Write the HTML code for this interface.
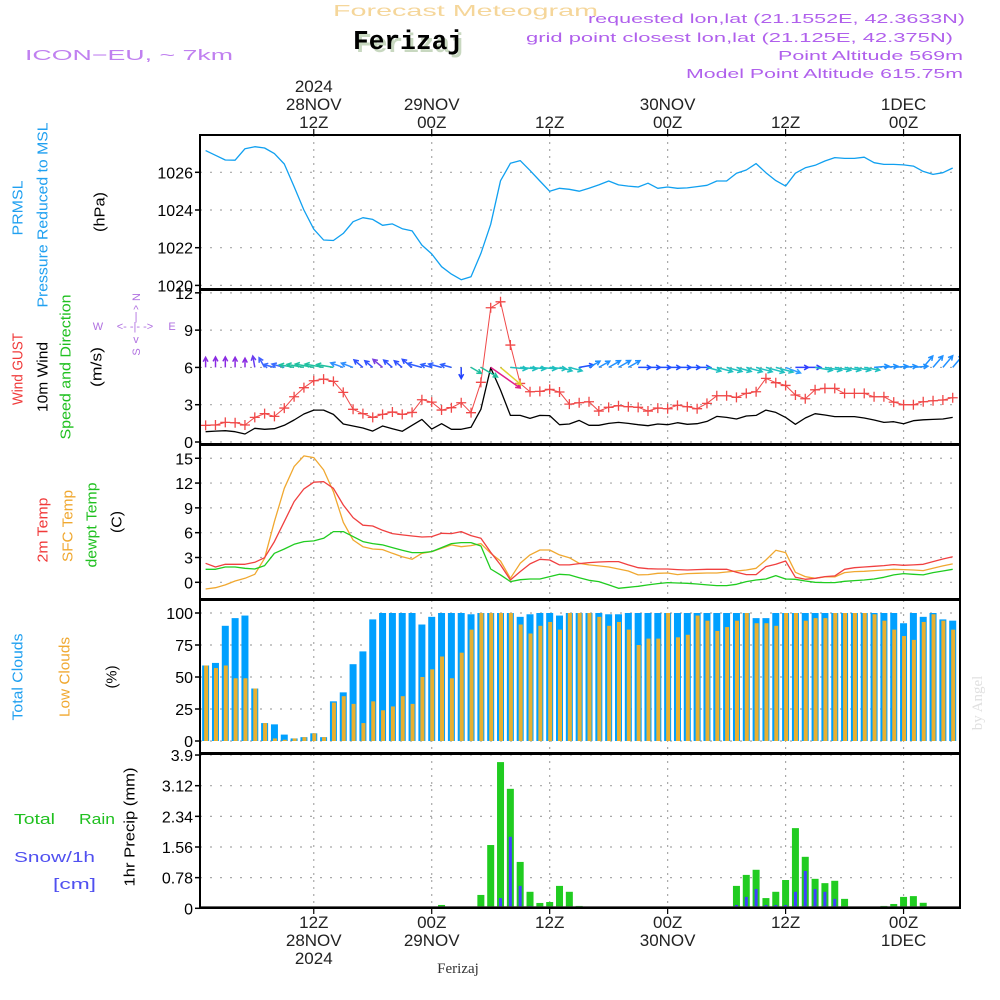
<!DOCTYPE html>
<html><head><meta charset="utf-8"><title>Forecast Meteogram Ferizaj</title>
<style>
html,body{margin:0;padding:0;background:#fff;}
svg{display:block;font-family:"Liberation Sans",sans-serif;}
</style></head>
<body>
<svg id="chart" width="1000" height="1000" viewBox="0 0 1000 1000" xmlns="http://www.w3.org/2000/svg">
<defs>
<clipPath id="clipP"><rect x="200" y="135" width="760" height="154"/></clipPath>
<clipPath id="clipW"><rect x="200" y="290" width="760" height="154"/></clipPath>
<clipPath id="clipT"><rect x="200" y="445" width="760" height="154"/></clipPath>
<clipPath id="clipC"><rect x="200" y="600" width="760" height="153"/></clipPath>
<clipPath id="clipR"><rect x="200" y="754" width="760" height="154"/></clipPath>
</defs>
<!-- header -->
<text x="333" y="16" font-size="16" fill="#f5d69a" textLength="265" lengthAdjust="spacingAndGlyphs">Forecast Meteogram</text>
<text x="356" y="52" font-family="Liberation Mono, monospace" font-weight="bold" font-size="27" fill="#c8d8c0" textLength="110" lengthAdjust="spacingAndGlyphs">Ferizaj</text>
<text x="353" y="49" font-family="Liberation Mono, monospace" font-weight="bold" font-size="27" fill="#000" textLength="110" lengthAdjust="spacingAndGlyphs">Ferizaj</text>
<text x="25" y="60" font-size="15" fill="#c080f0" textLength="208" lengthAdjust="spacingAndGlyphs">ICON−EU, ~ 7km</text>
<text x="965" y="23" font-size="13" fill="#b060ec" text-anchor="end" textLength="377" lengthAdjust="spacingAndGlyphs">requested lon,lat (21.1552E, 42.3633N)</text>
<text x="953" y="42" font-size="13" fill="#b060ec" text-anchor="end" textLength="427" lengthAdjust="spacingAndGlyphs">grid point closest lon,lat (21.125E, 42.375N)</text>
<text x="963" y="60" font-size="13" fill="#b060ec" text-anchor="end" textLength="185" lengthAdjust="spacingAndGlyphs">Point Altitude 569m</text>
<text x="963" y="78" font-size="13" fill="#b060ec" text-anchor="end" textLength="277" lengthAdjust="spacingAndGlyphs">Model Point Altitude 615.75m</text>
<text x="458" y="973" font-family="Liberation Serif, serif" font-size="15" fill="#333" text-anchor="middle">Ferizaj</text>
<text transform="translate(982,703) rotate(-90)" font-family="Liberation Serif, serif" font-size="15" fill="#e0e0e0" text-anchor="middle">by Angel</text>

<!-- left labels -->
<g font-size="15" dominant-baseline="central" text-anchor="middle">
<text transform="translate(18,208) rotate(-90)" fill="#20a0f0" textLength="55" lengthAdjust="spacingAndGlyphs">PRMSL</text>
<text transform="translate(43,215) rotate(-90)" fill="#20a0f0" textLength="185" lengthAdjust="spacingAndGlyphs">Pressure Reduced to MSL</text>
<text transform="translate(100,212) rotate(-90)" fill="#000" textLength="40" lengthAdjust="spacingAndGlyphs">(hPa)</text>
<text transform="translate(18,369) rotate(-90)" fill="#f03a3a" textLength="72" lengthAdjust="spacingAndGlyphs">Wind GUST</text>
<text transform="translate(43,377) rotate(-90)" fill="#000" textLength="70" lengthAdjust="spacingAndGlyphs">10m Wind</text>
<text transform="translate(66,367) rotate(-90)" fill="#20c020" textLength="145" lengthAdjust="spacingAndGlyphs">Speed and Direction</text>
<text transform="translate(97,367) rotate(-90)" fill="#000" textLength="40" lengthAdjust="spacingAndGlyphs">(m/s)</text>
<text transform="translate(43,530) rotate(-90)" fill="#f03a3a" textLength="65" lengthAdjust="spacingAndGlyphs">2m Temp</text>
<text transform="translate(68,526) rotate(-90)" fill="#f0a830" textLength="72" lengthAdjust="spacingAndGlyphs">SFC Temp</text>
<text transform="translate(92,525) rotate(-90)" fill="#20c020" textLength="85" lengthAdjust="spacingAndGlyphs">dewpt Temp</text>
<text transform="translate(117,522) rotate(-90)" fill="#000" textLength="22" lengthAdjust="spacingAndGlyphs">(C)</text>
<text transform="translate(18,677) rotate(-90)" fill="#20a0f0" textLength="87" lengthAdjust="spacingAndGlyphs">Total Clouds</text>
<text transform="translate(65,677) rotate(-90)" fill="#f0a830" textLength="80" lengthAdjust="spacingAndGlyphs">Low Clouds</text>
<text transform="translate(112,677) rotate(-90)" fill="#000" textLength="23" lengthAdjust="spacingAndGlyphs">(%)</text>
<text transform="translate(130,827) rotate(-90)" fill="#000" textLength="119" lengthAdjust="spacingAndGlyphs">1hr Precip (mm)</text>
</g>
<text x="14" y="824" font-size="15" fill="#20c020" textLength="41" lengthAdjust="spacingAndGlyphs">Total</text>
<text x="79" y="824" font-size="15" fill="#20c020" textLength="36" lengthAdjust="spacingAndGlyphs">Rain</text>
<text x="14" y="862" font-size="15" fill="#5050f0" textLength="81" lengthAdjust="spacingAndGlyphs">Snow/1h</text>
<text x="53" y="889" font-size="15" fill="#5050f0" textLength="43" lengthAdjust="spacingAndGlyphs">[cm]</text>
<!-- compass -->
<g fill="#b070e0" font-size="11" text-anchor="middle">
<text x="98" y="330">W</text><text x="172" y="330">E</text>
<text x="135" y="330">&lt;- -|- -&gt;</text>
<text x="136" y="301" transform="rotate(-90,136,297)">N</text>
<text x="136" y="313">^</text>
<text x="136" y="320">|</text>
<text x="136" y="343">v</text>
<text x="136" y="356" transform="rotate(-90,136,352)">S</text>
</g>
<g id="plots"></g>
</svg>
<script>
// ---- data ----
const hours=[1,2,3,4,5,6,7,8,9,10,11,12,13,14,15,16,17,18,19,20,21,22,23,24,25,26,27,28,29,30,31,32,33,34,35,36,37,38,39,40,41,42,43,44,45,46,47,48,49,50,51,52,53,54,55,56,57,58,59,60,61,62,63,64,65,66,67,68,69,70,71,72,73,74,75,76,77];
const barHours=[0,1,2,3,4,5,6,7,8,9,10,11,12,13,14,15,16,17,18,19,20,21,22,23,24,25,26,27,28,29,30,31,32,33,34,35,36,37,38,39,40,41,42,43,44,45,46,47,48,49,50,51,52,53,54,55,56,57,58,59,60,61,62,63,64,65,66,67,68,69,70,71,72,73,74,75,76,77];
const pressure=[1027.15,1026.90,1026.65,1026.64,1027.25,1027.36,1027.29,1026.99,1026.44,1025.24,1024.0,1022.98,1022.41,1022.38,1022.76,1023.38,1023.59,1023.5,1023.19,1023.26,1023.01,1022.89,1022.14,1021.67,1020.99,1020.60,1020.30,1020.46,1021.70,1023.24,1025.55,1026.48,1026.62,1026.1,1025.54,1024.99,1025.15,1025.1,1025.0,1025.15,1025.33,1025.54,1025.33,1025.27,1025.22,1025.42,1025.15,1025.22,1025.15,1025.17,1025.24,1025.31,1025.54,1025.54,1025.95,1026.12,1026.46,1025.98,1025.56,1025.27,1025.95,1026.24,1026.37,1026.6,1026.78,1026.74,1026.74,1026.8,1026.51,1026.42,1026.42,1026.39,1026.33,1026.05,1025.89,1025.98,1026.23];
const gust=[1.34,1.37,1.58,1.55,1.37,1.98,2.28,2.06,2.73,3.64,4.37,4.93,5.06,4.88,3.99,2.63,2.28,1.98,2.22,2.41,2.22,2.38,3.40,3.21,2.57,2.76,3.16,2.36,4.80,10.8,11.28,7.8,4.71,4.04,4.07,4.23,4.02,3.05,3.16,3.24,2.49,2.79,2.92,2.84,2.79,2.49,2.73,2.68,2.95,2.84,2.68,3.11,3.72,3.72,3.59,3.91,4.04,5.12,4.77,4.55,3.78,3.48,4.2,4.31,4.31,3.91,3.91,3.91,3.64,3.64,3.21,3.0,3.0,3.24,3.32,3.38,3.56];
const wind=[0.83,0.88,0.91,0.83,0.64,1.10,1.02,1.07,1.34,1.77,2.25,2.57,2.57,2.22,1.45,1.29,1.13,0.88,1.29,1.07,0.86,1.34,1.82,1.04,1.47,1.02,1.02,1.18,2.63,5.97,4.18,2.14,2.14,1.90,2.14,2.12,1.39,1.45,1.74,1.34,1.34,1.5,1.58,1.5,1.39,1.31,1.45,1.39,1.55,1.42,1.47,1.66,2.06,1.98,1.85,2.09,2.14,2.57,2.38,1.98,1.42,1.93,2.28,2.17,2.04,2.04,2.04,1.93,1.77,1.58,1.63,1.47,1.71,1.79,1.82,1.85,1.98];
// direction the arrow points (degrees, 0 = towards east, 90 = towards north)
const windDir=[90,90,90,90,90,100,120,165,165,170,170,170,170,170,160,160,140,140,140,140,140,140,165,165,165,165,270,-30,-30,-35,-40,-5,-5,-5,-5,-5,-15,-15,10,30,30,30,30,30,0,0,0,0,0,0,0,-15,-15,-15,-15,-15,-15,-15,-15,-20,0,0,-10,-10,-10,-10,-10,-10,5,5,5,5,5,50,50,50,50];
const windColor=["#8a2be2","#8a2be2","#8a2be2","#8a2be2","#8a2be2","#6a3df0","#4060ff","#3a6cff","#3a6cff","#20c0a0","#20c0a0","#20c0a0","#20c0a0","#20c0a0","#3090ff","#3090ff","#3050ff","#3050ff","#7a40e0","#3050ff","#3050ff","#3050ff","#3060ff","#3060ff","#3060ff","#3060ff","#2040ff","#20c0a0","#20c0a0","#e0208a","#e0d030","#20c0c0","#20c0c0","#20c0c0","#20c0c0","#20c0c0","#20c0c0","#20c0c0","#2050ff","#2090ff","#2090ff","#2090ff","#2090ff","#2090ff","#2050ff","#2050ff","#2050ff","#2050ff","#2050ff","#2050ff","#2050ff","#20c0c0","#20c0c0","#20c0c0","#20c0c0","#20c0c0","#20c0c0","#20c0c0","#20c0c0","#30a0ff","#3040ff","#3040ff","#20c0c0","#20c0c0","#20c0c0","#20c0c0","#20c0c0","#20c0c0","#2090ff","#2090ff","#2090ff","#2090ff","#2090ff","#2090ff","#2090ff","#2090ff","#2090ff"];
const temp2m=[2.30,1.85,2.18,2.18,2.18,2.42,2.98,4.92,7.34,9.76,11.29,12.1,12.18,11.37,9.35,7.82,6.9,6.81,6.29,5.89,5.73,5.6,5.48,5.52,5.93,5.89,6.13,5.65,5.32,3.63,2.1,0.28,1.29,2.22,2.78,2.7,2.1,2.1,2.26,2.38,2.46,2.5,2.5,2.1,1.77,1.65,1.61,1.61,1.53,1.49,1.53,1.57,1.57,1.57,1.21,0.93,0.93,1.9,2.18,2.58,0.6,0.36,0.48,0.69,0.77,1.57,1.77,1.85,1.94,2.02,2.14,2.06,2.1,2.18,2.5,2.82,3.1];
const tempSfc=[-0.81,-0.65,-0.32,0.16,0.48,0.97,2.9,7.34,11.37,13.99,15.28,15.08,13.59,10.97,7.26,5.12,4.31,4.03,3.95,3.51,3.1,2.78,3.51,3.71,4.11,4.52,4.31,4.44,4.68,3.51,2.58,0.48,2.3,3.31,3.91,3.91,3.31,2.98,2.3,2.1,1.98,1.85,1.61,1.37,0.89,0.93,1.09,1.13,0.93,1.05,1.09,1.13,1.13,1.25,1.37,1.49,1.69,2.7,3.87,3.59,1.21,0.69,0.48,0.65,0.65,1.17,1.29,1.33,1.41,1.49,1.57,1.53,1.49,1.41,1.69,1.98,2.22];
const dewpt=[1.57,1.57,1.85,1.85,1.69,1.61,2.02,3.51,4.03,4.6,4.92,5.0,5.32,6.13,6.13,5.52,4.92,4.68,4.52,4.19,3.87,3.59,3.59,3.71,4.19,4.68,4.8,4.8,4.39,1.61,0.89,0.08,0.32,0.4,0.4,0.69,0.97,0.89,0.56,0.24,0.08,-0.32,-0.73,-0.6,-0.48,-0.32,-0.16,-0.04,-0.08,-0.12,-0.2,-0.32,-0.4,-0.4,-0.24,0.08,0.28,0.4,0.81,0.4,0.36,0.16,0,-0.04,-0.04,0.12,0.2,0.28,0.4,0.6,0.89,1.05,0.97,0.89,1.17,1.37,1.57];
const totalClouds=[42,59,61,90,96,98,41,14,13,5,2,3,6,3,31,38,60,70,95,100,100,100,100,91,97,100,100,100,99,100,100,100,100,97,99,100,100,98,100,100,100,100,99,99,100,100,100,100,100,100,100,100,100,100,100,100,100,96,96,100,100,100,100,100,100,100,100,100,100,100,100,100,92,100,97,100,95,94];
const lowClouds=[42,59,57,59,49,49,41,14,2,1,2,3,6,3,30,35,29,14,31,24,27,35,29,50,56,66,49,69,87,100,100,100,100,91,84,90,93,87,100,100,100,97,90,93,87,75,80,80,100,81,83,98,94,86,89,94,100,92,92,90,100,100,94,96,96,100,100,100,100,99,94,87,82,79,93,99,94,87];
const rain=[0,0,0,0,0,0,0,0,0,0,0,0,0,0,0,0,0,0,0,0,0,0,0,0,0,0.085,0.034,0.01,0,0.34,1.61,3.72,3.04,1.18,0.42,0.136,0.16,0.57,0.42,0.06,0,0,0,0,0,0,0,0,0,0,0,0,0,0,0,0.57,0.85,0.98,0.26,0.42,0.72,2.04,1.31,0.75,0.64,0.70,0.24,0.034,0,0,0.06,0.11,0.29,0.31,0.14,0,0,0];
const snow=[0,0,0,0,0,0,0,0,0,0,0,0,0,0,0,0,0,0,0,0,0,0,0,0,0,0,0,0,0,0,0,0.26,1.82,0.57,0.06,0.03,0,0.03,0.03,0,0,0,0,0,0,0,0,0,0,0,0,0,0,0,0,0.085,0.29,0.49,0.085,0.085,0.085,0.42,0.95,0.49,0.42,0.24,0.03,0.01,0,0,0,0,0,0.01,0,0,0,0];
const pTicks=[1020,1022,1024,1026];
const wTicks=[0,3,6,9,12];
const tTicks=[0,3,6,9,12,15];
const cTicks=[0,25,50,75,100];
const rTicks=["0","0.78","1.56","2.34","3.12","3.9"];
const timeHours=[12,24,36,48,60,72];
const timeTop=[["2024","28NOV","12Z"],["","29NOV","00Z"],["","","12Z"],["","30NOV","00Z"],["","","12Z"],["","1DEC","00Z"]];
const timeBottom=[["12Z","28NOV","2024"],["00Z","29NOV",""],["12Z","",""],["00Z","30NOV",""],["12Z","",""],["00Z","1DEC",""]];

// ---- axis functions ----
const X=h=>195.8+9.83*h;
const yP=v=>172.3-(v-1026)*18.85;
const yW=v=>442-v*12.43;
const yT=v=>582.3-v*8.27;
const yC=v=>741-v*1.28;
const yR=v=>908.3-v*39.3;

const NS="http://www.w3.org/2000/svg";
const root=document.getElementById('plots');
function mk(tag,attrs,parent){const e=document.createElementNS(NS,tag);for(const k in attrs)e.setAttribute(k,attrs[k]);(parent||root).appendChild(e);return e;}

const panels=[
 {top:135,bot:289,clip:'clipP',ticks:pTicks,y:yP,name:'pressure'},
 {top:290,bot:444,clip:'clipW',ticks:wTicks,y:yW,name:'wind'},
 {top:445,bot:599,clip:'clipT',ticks:tTicks,y:yT,name:'temp'},
 {top:600,bot:753,clip:'clipC',ticks:cTicks,y:yC,name:'clouds'},
 {top:754,bot:908,clip:'clipR',ticks:rTicks,y:yR,name:'precip'}
];
const layers={};
panels.forEach(p=>{
  const g=mk('g',{});
  
  
  p.ticks.forEach(t=>{
    const yy=p.y(parseFloat(t));
    const gl=mk('line',{x1:200,x2:960,y1:yy,y2:yy,stroke:'#a8a8a8','stroke-width':1.2,'stroke-dasharray':'2,8'},g);
    
    
    const tk=mk('line',{x1:195,x2:200,y1:yy,y2:yy,stroke:'#000','stroke-width':1.5},g);
    
    
    const tl=mk('text',{x:193,y:yy+6,'font-size':16,'text-anchor':'end',fill:'#000'},g);
    tl.textContent=String(t);
    
    
  });
  timeHours.forEach(h=>{
    const vl=mk('line',{x1:X(h),x2:X(h),y1:p.top,y2:p.bot,stroke:'#a8a8a8','stroke-width':1.2,'stroke-dasharray':'2,5'},g);
    
    
  });
  const d=mk('g',{'clip-path':'url(#'+p.clip+')'},g);
  
  
  layers[p.name]=d;
});

function line(layer,data,yf,color,name,w){
  const pts=data.map((v,i)=>X(hours[i]).toFixed(1)+','+yf(v).toFixed(1)).join(' ');
  const pl=mk('polyline',{points:pts,fill:'none',stroke:color,'stroke-width':w||1.3,'stroke-linejoin':'round'},layer);
  
  
}

barHours.forEach((h,i)=>{
  const xb=X(h);
  const b=mk('rect',{x:xb-3.5,y:yC(totalClouds[i]),width:7,height:yC(0)-yC(totalClouds[i]),fill:'#00a0ff'},layers.clouds);
  
  
  const o=mk('rect',{x:xb-1.5,y:yC(lowClouds[i]),width:4,height:yC(0)-yC(lowClouds[i]),fill:'#e8b030'},layers.clouds);
  
  
});
barHours.forEach((h,i)=>{
  const xb=X(h);
  if(rain[i]>0){
    const b=mk('rect',{x:xb-3.5,y:yR(rain[i]),width:7,height:yR(0)-yR(rain[i]),fill:'#20cc20'},layers.precip);
    
    
  }
  if(snow[i]>0){
    const s=mk('rect',{x:xb-1.5,y:yR(snow[i]),width:3,height:yR(0)-yR(snow[i]),fill:'#4040ff'},layers.precip);
    
    
  }
});
const base=mk('line',{x1:200,x2:960,y1:907,y2:907,stroke:'#333','stroke-width':1.5},layers.precip);



line(layers.pressure,pressure,yP,'#10a0f0','pressure-line',1.3);
line(layers.temp,tempSfc,yT,'#f0a830','sfc-temp-line',1.3);
line(layers.temp,temp2m,yT,'#f04040','temp-2m-line',1.3);
line(layers.temp,dewpt,yT,'#20cc20','dewpoint-line',1.3);
line(layers.wind,wind,yW,'#000','wind-speed-line',1.3);
line(layers.wind,gust,yW,'#f04848','wind-gust-line',1);
hours.forEach((h,i)=>{
  const xx=X(h),yy=yW(gust[i]);
  const m=mk('path',{d:`M${xx-5},${yy}H${xx+5}M${xx},${yy-5}V${yy+5}`,stroke:'#f04848','stroke-width':1.3,fill:'none'},layers.wind);
  
  
});
hours.forEach((h,i)=>{
  const L=6+5*wind[i];
  const a=windDir[i]*Math.PI/180;
  const x0=X(h),y0=yW(6);
  const x1=x0+L*Math.cos(a),y1=y0-L*Math.sin(a);
  const ha=5;
  const b1=a+Math.PI-0.5,b2=a+Math.PI+0.5;
  const d=`M${x0.toFixed(1)},${y0.toFixed(1)}L${x1.toFixed(1)},${y1.toFixed(1)}M${(x1+ha*Math.cos(b1)).toFixed(1)},${(y1-ha*Math.sin(b1)).toFixed(1)}L${x1.toFixed(1)},${y1.toFixed(1)}L${(x1+ha*Math.cos(b2)).toFixed(1)},${(y1-ha*Math.sin(b2)).toFixed(1)}`;
  const ar=mk('path',{d:d,stroke:windColor[i],'stroke-width':1.5,fill:'none'},layers.wind);
  
  
});

panels.forEach(p=>{
  const r=mk('rect',{x:200,y:p.top,width:760,height:p.bot-p.top,fill:'none',stroke:'#000','stroke-width':2});
  
  
});
timeHours.forEach((h,i)=>{
  const xx=X(h);
  const t1=mk('line',{x1:xx,x2:xx,y1:129,y2:135,stroke:'#000','stroke-width':1.2});
  
  
  const t2=mk('line',{x1:xx,x2:xx,y1:908,y2:914,stroke:'#000','stroke-width':1.2});
  
  
  [92,110,128].forEach((yy,k)=>{
    if(!timeTop[i][k])return;
    const t=mk('text',{x:xx,y:yy,'font-size':17,'text-anchor':'middle',fill:'#222'});
    t.textContent=timeTop[i][k];
    
    
  });
  [928,946,964].forEach((yy,k)=>{
    if(!timeBottom[i][k])return;
    const t=mk('text',{x:xx,y:yy,'font-size':17,'text-anchor':'middle',fill:'#222'});
    t.textContent=timeBottom[i][k];
    
    
  });
});
</script>
</body></html>
